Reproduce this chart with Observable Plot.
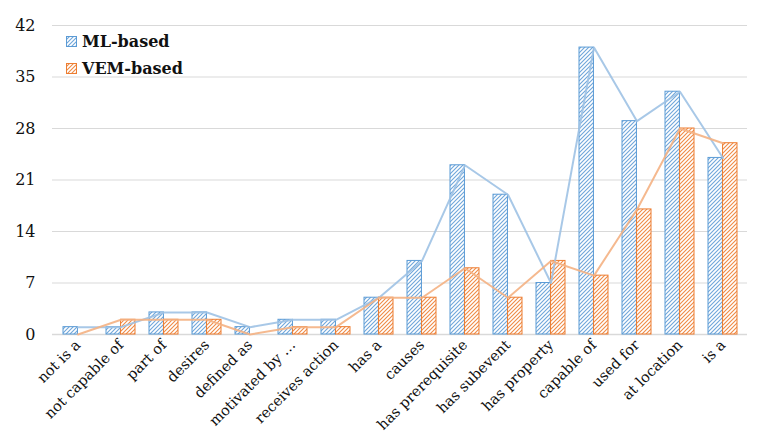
<!DOCTYPE html>
<html>
<head>
<meta charset="utf-8">
<script src="https://cdn.jsdelivr.net/npm/d3@7"></script>
<script src="https://cdn.jsdelivr.net/npm/@observablehq/plot@0.6"></script>
<style>
  body { margin: 0; background: #fff; }
  #wrap { position: relative; width: 772px; height: 435px; }
  #legend { position: absolute; left: 66px; top: 28px; font-family: "DejaVu Serif", serif; font-weight: bold; font-size: 16px; color: #111; }
  #legend .row { display: flex; align-items: center; height: 27px; }
  #legend svg { margin-right: 5px; }
</style>
</head>
<body>
<svg width="0" height="0" style="position:absolute">
  <defs>
    <pattern id="hatchML" patternUnits="userSpaceOnUse" width="4" height="4">
      <rect width="4" height="4" fill="#fff"/>
      <path d="M-1,1 l2,-2 M0,4 l4,-4 M3,5 l2,-2" stroke="#6fa6da" stroke-width="1.1"/>
    </pattern>
    <pattern id="hatchVEM" patternUnits="userSpaceOnUse" width="4" height="4">
      <rect width="4" height="4" fill="#fff"/>
      <path d="M-1,1 l2,-2 M0,4 l4,-4 M3,5 l2,-2" stroke="#f08a45" stroke-width="1.1"/>
    </pattern>
  </defs>
</svg>
<div id="wrap">
  <div id="legend">
    <div class="row"><svg width="11" height="11"><rect x="0.5" y="0.5" width="10" height="10" fill="url(#hatchML)" stroke="#5b9bd5"/></svg>ML-based</div>
    <div class="row"><svg width="11" height="11"><rect x="0.5" y="0.5" width="10" height="10" fill="url(#hatchVEM)" stroke="#ed7d31"/></svg>VEM-based</div>
  </div>
</div>
<script>
const categories = ["not is a", "not capable of", "part of", "desires", "defined as", "motivated by …", "receives action", "has a", "causes", "has prerequisite", "has subevent", "has property", "capable of", "used for", "at location", "is a"];
const mlValues  = [1, 1, 3, 3, 1, 2, 2, 5, 10, 23, 19, 7, 39, 29, 33, 24];
const vemValues = [0, 2, 2, 2, 0, 1, 1, 5, 5, 9, 5, 10, 8, 17, 28, 26];
const yTicks = [0, 7, 14, 21, 28, 35, 42];

const font = "DejaVu Serif";
const chart = Plot.plot({
  width: 772,
  height: 435,
  marginLeft: 52,
  marginRight: 25,
  marginTop: 25,
  marginBottom: 101,
  style: { fontFamily: font, background: "#fff", color: "#111" },
  x: { type: "band", domain: categories, paddingInner: 0.33, paddingOuter: 0.165, label: null },
  y: { domain: [0, 42], label: null },
  marks: [
    Plot.gridY(yTicks, { stroke: "#d9d9d9", strokeOpacity: 1 }),
    Plot.ruleY([0], { stroke: "#d9d9d9", strokeWidth: 1.5 }),
    Plot.barY(categories, { x: d => d, y: (d, i) => mlValues[i], insetRight: 14.55, fill: "url(#hatchML)", stroke: "#5b9bd5", strokeWidth: 1 }),
    Plot.barY(categories, { x: d => d, y: (d, i) => vemValues[i], insetLeft: 14.55, fill: "url(#hatchVEM)", stroke: "#ed7d31", strokeWidth: 1 }),
    Plot.lineY(categories, { x: d => d, y: (d, i) => mlValues[i], stroke: "#9fc2e4", strokeWidth: 2, strokeOpacity: 0.9 }),
    Plot.lineY(categories, { x: d => d, y: (d, i) => vemValues[i], stroke: "#f4b183", strokeWidth: 2, strokeOpacity: 0.9 }),
    Plot.axisY({ ticks: yTicks, tickSize: 0, tickPadding: 17, fontSize: 16, label: null }),
    Plot.axisX({ tickSize: 0, tickRotate: -45, tickPadding: 8, fontSize: 14.5, label: null })
  ]
});
document.getElementById("wrap").prepend(chart);
chart.style.position = "absolute";
chart.style.left = "0";
chart.style.top = "0";
</script>
</body>
</html>
